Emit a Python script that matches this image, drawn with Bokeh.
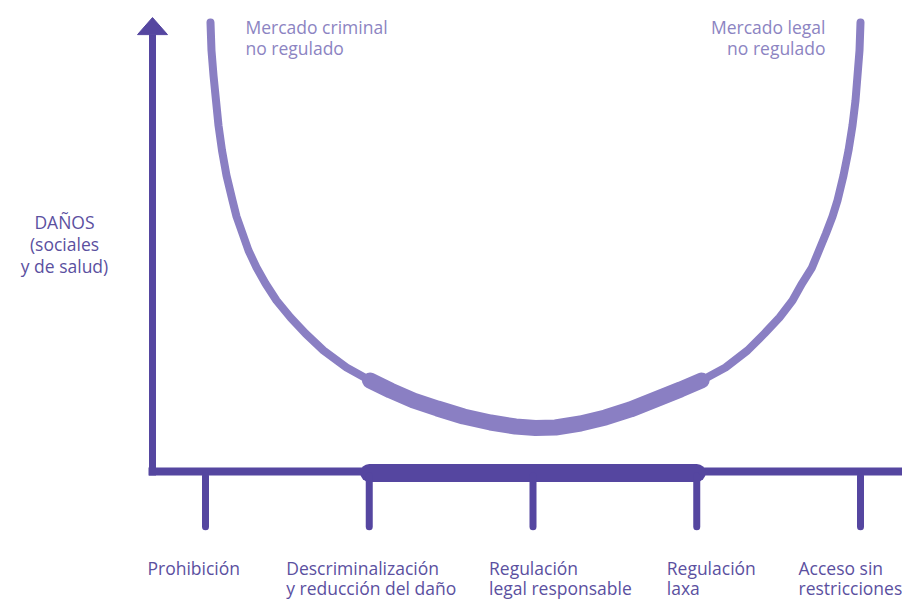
from bokeh.plotting import figure
from bokeh.models import Range1d
from bokeh.embed import file_html
from bokeh.resources import INLINE
from bokeh.core.properties import value

# ---- data (policy position 0..4, harm 0..100) ----
POLICY_X = [0, 1, 2, 3, 4]
POLICY_LINE1 = ["Prohibición", "Descriminalización", "Regulación", "Regulación", "Acceso sin"]
POLICY_LINE2 = ["", "y reducción del daño", "legal responsable", "laxa", "restricciones"]
POLICY_LABEL_OFFSET = [-58, -83, -44, -30, -62]

CURVE_X = [0.0305, 0.0366, 0.0489, 0.0641, 0.0794, 0.1008, 0.1282, 0.1649, 0.1893, 0.2260,
           0.2626, 0.3115, 0.3664, 0.4336, 0.5191, 0.6107, 0.7206, 0.8611, 1.0046,
           1.1298, 1.2702, 1.4168, 1.5756, 1.7405, 1.8931, 2.0153, 2.1374, 2.2901, 2.4427,
           2.5954, 2.7481, 2.9008, 3.0290,
           3.1756, 3.3099, 3.4137, 3.5053, 3.5847, 3.6427, 3.7038, 3.7466, 3.7893, 3.8290,
           3.8595, 3.8962, 3.9267, 3.9511, 3.9695, 3.9817, 3.9939, 4.0000]
CURVE_Y = [100.0, 93.76, 88.20, 82.63, 77.06, 71.49, 65.92, 60.36, 56.79, 53.01,
           49.22, 45.43, 41.87, 38.08, 34.30, 30.73, 26.95, 23.16, 20.27,
           18.04, 15.81, 14.03, 12.25, 10.91, 10.02, 9.69, 9.80, 10.69, 12.03,
           13.81, 16.04, 18.26, 20.27,
           23.16, 26.95, 30.73, 34.30, 38.08, 41.87, 45.43, 49.22, 53.01, 56.79,
           60.36, 65.92, 71.49, 77.06, 82.63, 88.20, 93.76, 100.0]
OPTIMAL_RANGE = [1, 3]

Y_LABEL = ["DAÑOS", "(sociales", "y de salud)"]
LEFT_NOTE = ["Mercado criminal", "no regulado"]
RIGHT_NOTE = ["Mercado legal", "no regulado"]

AXIS_COLOR = "#5546a0"
CURVE_COLOR = "#8a7fc3"
LABEL_COLOR = "#5b509f"
NOTE_COLOR = "#8c84c2"
FONT = value("Open Sans")
FS = "17.5px"

# px per unit: x 163.75, y 4.49 ; tick 0 at 205px, harm 0 at 471px
XPU = 163.75
YPU = 4.49
W, H = 902, 599
FIX = 7  # svg baseline correction (px)


def ty(py):
    return (471 - (py - FIX)) / YPU


p = figure(width=W, height=H, output_backend="svg", toolbar_location=None,
           x_range=Range1d(-205 / XPU, (W - 205) / XPU),
           y_range=Range1d((471 - H) / YPU, 471 / YPU),
           min_border=0)
p.axis.visible = False
p.grid.visible = False
p.outline_line_color = None
p.background_fill_color = "white"
p.border_fill_color = "white"

axis_x = -53 / XPU  # vertical axis position left of first policy

# horizontal axis
p.line([-57 / XPU, 4.4], [0, 0], line_width=8, line_color=AXIS_COLOR, line_cap="butt")
# highlighted optimal range on axis
p.line(OPTIMAL_RANGE, [-0.33, -0.33], line_width=18, line_color=AXIS_COLOR, line_cap="round")
# vertical axis
p.line([axis_x, axis_x], [-4 / YPU, 97.3], line_width=7, line_color=AXIS_COLOR, line_cap="butt")
p.patch([axis_x - 15 / XPU, axis_x, axis_x + 15 / XPU], [97.3, 101.1, 97.3],
        fill_color=AXIS_COLOR, line_color=AXIS_COLOR, line_width=1)

# ticks
p.segment(x0=POLICY_X, y0=[-1] * 5, x1=POLICY_X, y1=[-12.3] * 5,
          line_width=7, line_color=AXIS_COLOR, line_cap="round")

# curve
p.line(CURVE_X, CURVE_Y, line_width=8, line_color=CURVE_COLOR, line_cap="round", line_join="round")
sel = [i for i, x in enumerate(CURVE_X) if OPTIMAL_RANGE[0] - 0.01 <= x <= OPTIMAL_RANGE[1] + 0.04]
p.line([CURVE_X[i] for i in sel], [CURVE_Y[i] for i in sel], line_width=16,
       line_color=CURVE_COLOR, line_cap="round", line_join="round")

# policy labels
p.text(x=POLICY_X, y=[ty(574)] * 5, text=POLICY_LINE1, x_offset=POLICY_LABEL_OFFSET,
       text_font=FONT, text_font_size=FS, text_color=LABEL_COLOR,
       text_align="left", text_baseline="alphabetic")
p.text(x=POLICY_X, y=[ty(594)] * 5, text=POLICY_LINE2, x_offset=POLICY_LABEL_OFFSET,
       text_font=FONT, text_font_size=FS, text_color=LABEL_COLOR,
       text_align="left", text_baseline="alphabetic")

# y label
p.text(x=[(64 - 205) / XPU] * 3, y=[ty(228), ty(250), ty(272)],
       text=Y_LABEL, text_font=FONT, text_font_size=FS, text_color=LABEL_COLOR,
       text_align="center", text_baseline="alphabetic")

# notes
p.text(x=[(245 - 205) / XPU] * 2, y=[ty(33), ty(54)], text=LEFT_NOTE,
       text_font=FONT, text_font_size=FS, text_color=NOTE_COLOR,
       text_align="left", text_baseline="alphabetic")
p.text(x=[(825 - 205) / XPU] * 2, y=[ty(33), ty(54)], text=RIGHT_NOTE,
       text_font=FONT, text_font_size=FS, text_color=NOTE_COLOR,
       text_align="right", text_baseline="alphabetic")

open("out.html", "w").write(file_html(p, INLINE))
